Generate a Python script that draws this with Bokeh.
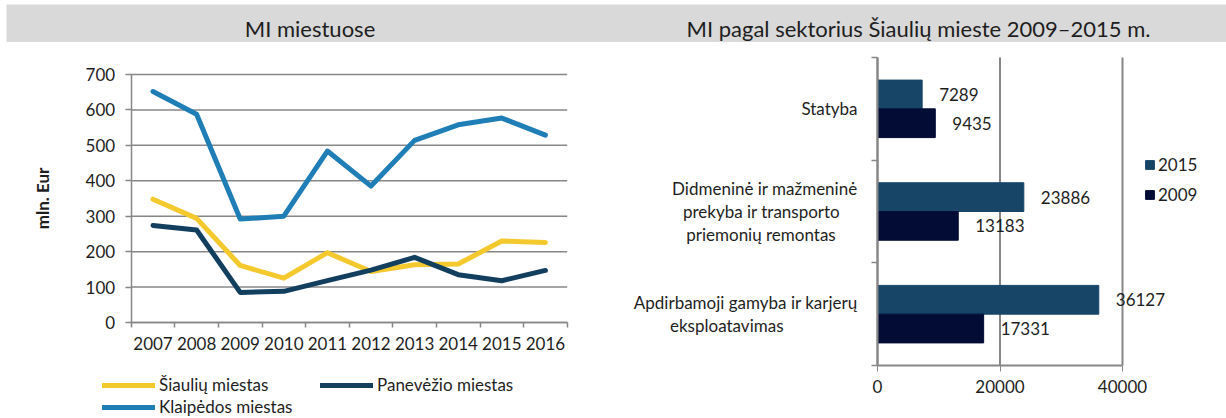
import numpy as np
from bokeh.plotting import figure
from bokeh.models import (Range1d, FixedTicker, Legend, LegendItem, LabelSet,
                          ColumnDataSource)
from bokeh.layouts import column, row
from bokeh.embed import file_html
from bokeh.resources import INLINE
from bokeh.core.properties import value

# ---------------- data ----------------
years = ["2007", "2008", "2009", "2010", "2011", "2012", "2013", "2014", "2015", "2016"]
siauliu = [348, 294, 161, 125, 197, 144, 163, 165, 230, 226]
panevezio = [274, 261, 85, 88, 118, 148, 184, 135, 118, 147]
klaipedos = [652, 588, 292, 300, 484, 385, 514, 558, 577, 529]
y_ticks = [0, 100, 200, 300, 400, 500, 600, 700]

NB = "\u00a0"
sectors = ["Statyba",
           "Didmeninė ir mažmeninė\nprekyba ir transporto" + NB * 4 + "\npriemonių remontas" + NB * 5,
           "Apdirbamoji gamyba ir karjerų\neksploatavimas" + NB * 17]
val_2015 = [7289, 23886, 36127]
val_2009 = [9435, 13183, 17331]
x_ticks_bar = [0, 20000, 40000]

left_title = "MI miestuose"
right_title = "MI pagal sektorius Šiaulių mieste 2009–2015 m."

# ---------------- styles ----------------
FONT = "Lato"
FS = "17px"
TXT = "#1e1e1e"
GRID = "#878787"
C_SIA = "#F3C92E"
C_PAN = "#133F5F"
C_KLA = "#1F7EB5"
C_15 = "#164568"
C_09 = "#020C35"

# ---------------- header band ----------------
hdr = figure(width=1226, height=42, x_range=Range1d(0, 1220), y_range=Range1d(0, 38),
             title=None, x_axis_type=None, y_axis_type=None,
             toolbar_location=None, output_backend="svg",
             min_border_left=6, min_border_top=4, min_border_right=0, min_border_bottom=0,
             outline_line_color=None,
             background_fill_color="#D9D9D9", border_fill_color="white")
hdr.grid.visible = False
hdr.text(x=[303.5, 912], y=[14, 14], text=[left_title, right_title],
         text_font=value(FONT), text_font_size="22px", text_color=TXT,
         text_align="center", text_baseline="middle")

# ---------------- left line chart (frame fills the canvas) ----------------
n = len(years)
xs = [i + 0.5 for i in range(n)]
src = ColumnDataSource(dict(x=xs, sia=siauliu, pan=panevezio, kla=klaipedos))

W1, H1 = 620, 376
FL, FR, FT, FB = 130.7, 566.7, 32.0, 280.0   # plot-area edges inside canvas (px)
ppx = (FR - FL) / n
ppy = (FB - FT) / y_ticks[-1]
x_rng = Range1d(-FL / ppx, n + (W1 - FR) / ppx)
y_rng = Range1d(-(H1 - FB) / ppy, y_ticks[-1] + FT / ppy)

p1 = figure(width=W1, height=H1, x_range=x_rng, y_range=y_rng,
            title=None, toolbar_location=None, output_backend="svg",
            min_border=0, outline_line_color=None)
p1.grid.visible = False

p1.segment(x0=[0] * len(y_ticks), x1=[n] * len(y_ticks), y0=y_ticks, y1=y_ticks,
           line_color=GRID, line_width=1.5)

r_sia = p1.line("x", "sia", source=src, line_width=5, line_color=C_SIA,
                line_join="round", line_cap="round")
r_pan = p1.line("x", "pan", source=src, line_width=5, line_color=C_PAN,
                line_join="round", line_cap="round")
r_kla = p1.line("x", "kla", source=src, line_width=5, line_color=C_KLA,
                line_join="round", line_cap="round")

xa = p1.xaxis[0]
xa.fixed_location = 0
xa.bounds = (0, n)
xa.ticker = FixedTicker(ticks=xs, minor_ticks=list(range(n + 1)))
xa.major_label_overrides = {x: y for x, y in zip(xs, years)}
xa.major_tick_line_color = None
xa.major_tick_out = 0
xa.major_tick_in = 0
xa.minor_tick_line_color = GRID
xa.minor_tick_line_width = 1.5
xa.minor_tick_out = 5
xa.minor_tick_in = 0
xa.major_label_standoff = 9

ya = p1.yaxis[0]
ya.fixed_location = 0
ya.bounds = (0, y_ticks[-1])
ya.ticker = FixedTicker(ticks=y_ticks)
ya.major_tick_out = 6
ya.major_tick_in = 0
ya.minor_tick_line_color = None
ya.major_tick_line_color = GRID
ya.major_tick_line_width = 1.5
ya.major_label_standoff = 10
ya.axis_label = "mln. Eur"
ya.axis_label_text_font = FONT
ya.axis_label_text_font_style = "bold"
ya.axis_label_text_font_size = "17px"
ya.axis_label_text_color = TXT
ya.axis_label_standoff = 30

for ax in (xa, ya):
    ax.axis_line_color = GRID
    ax.axis_line_width = 1.5
    ax.major_label_text_font = FONT
    ax.major_label_text_font_size = FS
    ax.major_label_text_color = TXT


def legend_row(items, loc):
    lg = Legend(items=items, location=loc, orientation="horizontal",
                glyph_width=53, glyph_height=16, label_height=16, label_width=155,
                label_standoff=4, spacing=6, padding=0, margin=0,
                border_line_color=None, background_fill_alpha=0,
                label_text_font=FONT, label_text_font_size=FS, label_text_color=TXT)
    p1.add_layout(lg)


legend_row([LegendItem(label="Šiaulių miestas", renderers=[r_sia]),
            LegendItem(label="Panevėžio miestas", renderers=[r_pan])], (102, 23))
legend_row([LegendItem(label="Klaipėdos miestas", renderers=[r_kla])], (102, 1))

# ---------------- right bar chart (frame fills the canvas) ----------------
m = len(sectors)
ypos = [m - 0.5 - i for i in range(m)]
bsrc = ColumnDataSource(dict(
    y15=[y + 0.14 for y in ypos], y09=[y - 0.14 for y in ypos],
    v15=val_2015, v09=val_2009,
    t15=[str(v) for v in val_2015], t09=[str(v) for v in val_2009]))

W2, H2 = 606, 376
GL, GR, GT, GB = 257.0, 502.0, 15.0, 323.0   # plot-area edges inside canvas (px)
qx = (GR - GL) / x_ticks_bar[-1]
qy = (GB - GT) / m
x2 = Range1d(-GL / qx, x_ticks_bar[-1] + (W2 - GR) / qx)
y2 = Range1d(-(H2 - GB) / qy, m + GT / qy)

p2 = figure(width=W2, height=H2, x_range=x2, y_range=y2,
            title=None, toolbar_location=None, output_backend="svg",
            min_border=0, outline_line_color=None)
p2.grid.visible = False

p2.segment(x0=x_ticks_bar, x1=x_ticks_bar, y0=[0] * len(x_ticks_bar), y1=[m] * len(x_ticks_bar),
           line_color=GRID, line_width=2)

b15 = p2.hbar(y="y15", right="v15", left=0, height=0.28, source=bsrc,
              fill_color=C_15, line_color=C_15)
b09 = p2.hbar(y="y09", right="v09", left=0, height=0.28, source=bsrc,
              fill_color=C_09, line_color=C_09)

for yk, tk, vk in (("y15", "t15", "v15"), ("y09", "t09", "v09")):
    p2.add_layout(LabelSet(x=vk, y=yk, text=tk, source=bsrc, x_offset=17,
                           text_baseline="middle", text_align="left",
                           text_font=value(FONT), text_font_size=FS,
                           text_color=TXT))

xb = p2.xaxis[0]
xb.fixed_location = 0
xb.ticker = FixedTicker(ticks=x_ticks_bar)
xb.bounds = (0, x_ticks_bar[-1])
xb.major_tick_out = 6
xb.major_tick_in = 0
xb.minor_tick_line_color = None
xb.major_tick_line_color = GRID
xb.major_label_standoff = 8

yb = p2.yaxis[0]
yb.fixed_location = 0
yb.bounds = (0, m)
yb.ticker = FixedTicker(ticks=ypos, minor_ticks=list(range(m + 1)))
yb.major_label_overrides = {y: s for y, s in zip(ypos, sectors)}
yb.major_tick_line_color = None
yb.major_tick_out = 0
yb.major_tick_in = 0
yb.minor_tick_line_color = GRID
yb.minor_tick_line_width = 1.5
yb.minor_tick_out = 6
yb.minor_tick_in = 0
yb.major_label_standoff = 14
yb.major_label_text_line_height = 1.1

for ax in (xb, yb):
    ax.axis_line_color = GRID
    ax.axis_line_width = 2
    ax.major_label_text_font = FONT
    ax.major_label_text_font_size = FS
    ax.major_label_text_color = TXT

leg2 = Legend(items=[LegendItem(label="2015", renderers=[b15]),
                     LegendItem(label="2009", renderers=[b09])],
              location=(524, 213), glyph_width=11, glyph_height=11,
              label_height=20, spacing=9, label_standoff=3, padding=0, margin=0,
              border_line_color=None, background_fill_alpha=0,
              label_text_font=FONT, label_text_font_size=FS, label_text_color=TXT)
p2.add_layout(leg2)

layout = column(hdr, row(p1, p2, spacing=0), spacing=0)
open("out.html", "w").write(file_html(layout, INLINE))
